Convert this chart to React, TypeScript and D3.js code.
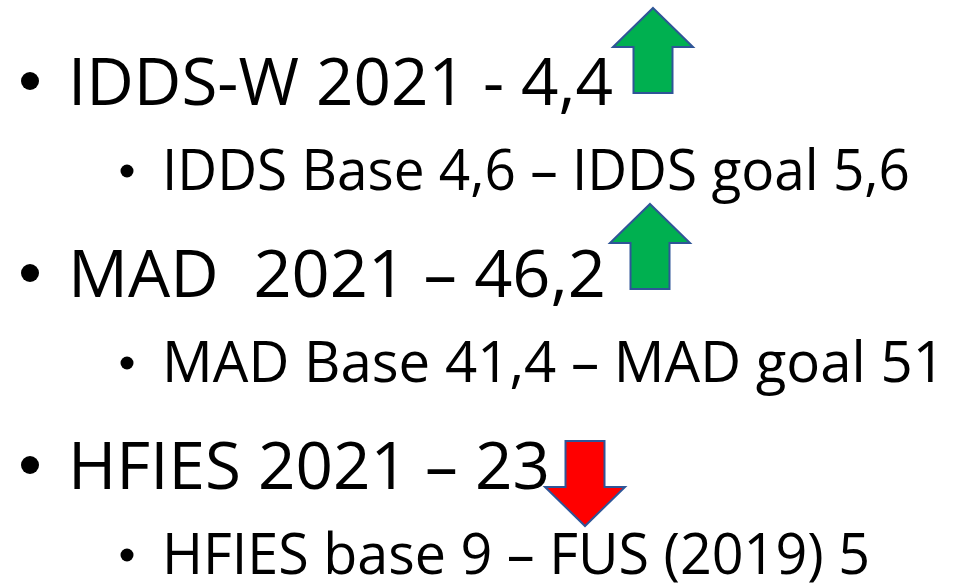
import * as d3 from "d3";
import React from "react";

// slide content
const headlines = ["IDDS-W 2021 - 4,4", "MAD  2021 – 46,2", "HFIES 2021 – 23"];
const details = ["IDDS Base 4,6 – IDDS goal 5,6", "MAD Base 41,4 – MAD goal 51", "HFIES base 9 – FUS (2019) 5"];
const trends = ["up", "up", "down"];

// fitted widths of each text line (Calibri is not installed, so we squeeze Open Sans)
const headlineWidths = [545, 538, 482];
const detailWidths = [748, 783, 708];
// arrow centre x and top offset from the headline baseline
const arrowCenters = [653, 650, 585];
const arrowTops = [-97, -93, -48];

const W = 956;
const H = 583;

const arrowPath = (cx: number, top: number, dir: string) => {
  const halfHead = 40, halfShaft = 19.5, head = 39, len = 85;
  const p = d3.path();
  if (dir === "up") {
    p.moveTo(cx, top);
    p.lineTo(cx + halfHead, top + head);
    p.lineTo(cx + halfShaft, top + head);
    p.lineTo(cx + halfShaft, top + len);
    p.lineTo(cx - halfShaft, top + len);
    p.lineTo(cx - halfShaft, top + head);
    p.lineTo(cx - halfHead, top + head);
  } else {
    p.moveTo(cx - halfShaft, top);
    p.lineTo(cx + halfShaft, top);
    p.lineTo(cx + halfShaft, top + len - head);
    p.lineTo(cx + halfHead, top + len - head);
    p.lineTo(cx, top + len);
    p.lineTo(cx - halfHead, top + len - head);
    p.lineTo(cx - halfShaft, top + len - head);
  }
  p.closePath();
  return p.toString();
};

export default function App() {
  const rowY = d3.scaleLinear().domain([0, headlines.length - 1]).range([105, 489]);
  const font = "'Open Sans', 'Noto Sans', sans-serif";

  return (
    <svg width={W} height={H} style={{ position: "absolute", left: 0, top: 0, background: "#fff" }}>
      {headlines.map((h, i) => {
        const y = rowY(i);
        const sy = y + 85;
        return (
          <g key={h}>
            <circle cx={30} cy={y - 24} r={9} fill="#000" />
            <text x={68} y={y} fontFamily={font} fontSize={66} fill="#000"
              textLength={headlineWidths[i]} lengthAdjust="spacingAndGlyphs" style={{ whiteSpace: "pre" }}>
              {h}
            </text>
            <circle cx={127} cy={sy - 19} r={6.5} fill="#000" />
            <text x={162} y={sy} fontFamily={font} fontSize={56} fill="#000"
              textLength={detailWidths[i]} lengthAdjust="spacingAndGlyphs">
              {details[i]}
            </text>
          </g>
        );
      })}
      {trends.map((t, i) => (
        <path key={i} d={arrowPath(arrowCenters[i], rowY(i) + arrowTops[i], t)}
          fill={t === "up" ? "#00B050" : "#FF0000"} stroke="#2F5597" strokeWidth={2} strokeLinejoin="miter" />
      ))}
    </svg>
  );
}
